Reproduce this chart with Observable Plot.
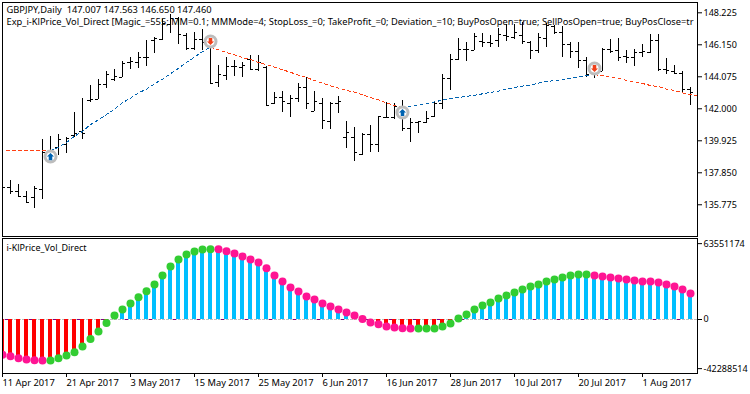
<!DOCTYPE html>
<html>
<head>
<meta charset="utf-8">
<script src="https://cdn.jsdelivr.net/npm/d3@7"></script>
<script src="https://cdn.jsdelivr.net/npm/@observablehq/plot@0.6"></script>
<style>
html,body{margin:0;padding:0;background:#fff;}
svg{display:block;background:#fff;}
</style>
</head>
<body>
<div id="chart"></div>
<script>
const opens = [136.92,136.87,136.62,136.33,136.23,136.75,139.19,139.51,139.68,140.27,140.51,142.54,142.62,143.57,143.88,144.05,145.02,145.02,145.35,146.43,146.47,147.46,147.83,146.75,145.89,146.47,146.21,143.73,144.16,144.74,144.70,145.17,144.53,144.70,142.32,142.75,142.32,142.65,143.36,141.85,142.36,141.18,142.32,140.16,140.16,139.04,140.33,139.68,141.46,141.41,142.10,140.70,141.09,141.09,141.52,142.32,143.94,145.17,145.84,145.78,146.38,146.28,146.43,146.75,146.64,146.75,146.32,145.78,146.58,147.33,146.92,146.17,145.71,145.13,144.48,144.44,145.82,145.78,145.39,145.30,145.63,145.67,146.43,144.53,144.44,144.31,143.25];
const highs = [137.13,137.35,137.09,136.62,136.96,140.01,140.20,140.33,140.12,141.78,142.65,143.51,143.88,144.44,144.55,145.09,145.35,145.67,146.43,146.64,147.77,148.11,147.94,146.86,146.97,147.12,146.53,144.81,145.35,145.13,145.02,145.45,145.45,144.76,143.08,143.14,142.86,143.62,144.01,143.12,142.65,142.39,142.80,141.18,140.81,140.42,140.92,141.52,142.39,142.32,142.54,141.35,141.20,141.85,142.43,144.22,145.50,146.53,146.32,146.90,146.86,146.75,147.23,147.46,147.46,147.62,146.38,146.86,147.51,147.40,147.33,146.32,146.28,145.35,145.02,145.89,146.47,146.58,145.78,145.82,146.15,146.79,146.82,145.24,144.81,144.44,143.36];
const lows = [136.59,136.44,136.27,135.88,135.53,136.12,138.86,138.97,139.12,140.16,140.01,142.43,142.62,143.29,143.79,144.01,144.53,144.59,144.76,145.61,146.43,146.86,146.17,145.78,145.78,145.78,143.62,143.36,143.83,144.09,144.05,144.48,144.44,142.15,142.28,141.78,141.46,142.43,141.95,141.85,140.66,140.66,141.72,139.45,138.58,138.99,139.19,139.19,141.35,141.28,140.55,139.84,140.42,141.02,141.46,141.93,143.19,145.13,145.09,145.78,145.99,145.99,145.99,146.38,146.47,146.15,145.20,145.56,145.99,146.82,145.35,145.24,144.63,144.05,143.98,144.44,145.56,145.07,144.96,144.76,145.35,145.61,144.42,144.22,144.20,143.08,142.21];
const closes = [136.87,136.66,136.33,135.92,136.81,139.14,139.25,140.03,140.05,140.42,140.38,142.60,143.57,144.22,144.09,144.96,145.04,145.35,145.35,146.53,147.51,147.83,146.79,145.89,146.47,146.32,143.66,144.22,144.74,144.74,144.81,144.53,145.00,142.19,142.75,142.49,142.65,143.40,142.32,142.49,141.24,142.32,142.49,140.44,139.14,140.33,139.68,141.52,141.46,142.15,140.70,141.09,141.20,141.35,142.32,143.94,145.17,145.84,145.84,146.69,146.28,146.25,146.79,146.69,146.92,146.36,145.78,146.60,147.38,146.97,146.17,145.71,145.13,144.22,144.37,145.84,145.74,145.35,145.30,145.67,145.74,146.43,144.53,144.48,144.31,143.25,143.08];

const trendValues = [139.27,139.27,139.27,139.27,139.27,139.27,139.27,139.51,139.81,140.22,140.53,140.98,141.28,141.63,141.98,142.39,142.69,143.03,143.27,143.62,143.92,144.27,144.63,145.00,145.35,145.71,145.99,145.82,145.65,145.50,145.32,145.19,145.00,144.87,144.70,144.53,144.37,144.18,144.03,143.83,143.66,143.49,143.34,143.19,143.08,142.90,142.73,142.58,142.39,142.21,142.08,142.17,142.26,142.34,142.45,142.56,142.67,142.73,142.80,142.88,142.97,143.06,143.14,143.27,143.38,143.47,143.55,143.66,143.77,143.83,143.88,143.98,144.07,144.14,144.22,144.14,144.05,143.96,143.85,143.75,143.64,143.51,143.44,143.27,143.19,143.03,142.93,142.82];
const trendRuns = [[0,6,"#ff4013"],[6,26,"#0063b1"],[26,50,"#ff4013"],[50,74,"#0063b1"],[74,87,"#ff4013"]];
const trendStart = 0.5;

const signalBars = [6,26,50,74];
const signalPrices = [138.90,146.36,141.76,144.61];
const signalUp = [true,false,true,false];

const indicatorMillions = [-28.1,-29.2,-30.8,-31.8,-32.4,-32.6,-32.6,-30.8,-28.6,-26.0,-21.5,-15.6,-9.5,-2.7,3.2,8.0,12.7,17.8,22.5,27.8,35.0,42.2,47.7,51.7,54.1,55.7,56.0,56.0,54.4,52.5,50.1,47.7,45.3,40.8,35.0,30.2,25.5,22.3,18.3,15.9,12.7,10.3,8.0,5.6,3.2,0.3,-2.4,-3.7,-5.6,-6.4,-6.9,-7.2,-7.2,-7.2,-7.2,-5.6,-3.2,0.8,4.0,8.0,11.1,13.5,16.7,19.1,21.5,23.9,26.3,27.8,30.2,31.8,33.4,35.0,35.8,35.8,35.0,34.2,33.4,32.6,31.8,31.0,30.2,30.2,29.4,27.8,26.3,23.9,20.7];
const greenRuns = [[6,26],[52,73]];

const priceTicks = [148.225,146.150,144.075,142.000,139.925,137.850,135.775];
const indicatorMax = 63551174, indicatorMin = -42288514;
const dateLabels = ["11 Apr 2017","21 Apr 2017","3 May 2017","15 May 2017","25 May 2017","6 Jun 2017","16 Jun 2017","28 Jun 2017","10 Jul 2017","20 Jul 2017","1 Aug 2017"];
const dateStep = 8;

const headerLine1 = "GBPJPY,Daily\u00a0\u00a0147.007 147.563 146.650 147.460";
const headerLine2 = "Exp_i-KlPrice_Vol_Direct [Magic_=555; MM=0.1; MMMode=4; StopLoss_=0; TakeProfit_=0; Deviation_=10; BuyPosOpen=true; SellPosOpen=true; BuyPosClose=tr";
const paneLabel = "i-KlPrice_Vol_Direct";

const FONT = "'Noto Sans', sans-serif";
const FS = 9.3;
const AXIS_FS = 9;

const ohlc = opens.map((o,i)=>({i,o,h:highs[i],l:lows[i],c:closes[i]}));
const trend = trendValues.map((v,i)=>({i: i===0?trendStart:i, v}));
const trendSegments = trendRuns.map(([a,b,color])=>({color, pts: trend.slice(a,b+1)}));
const signals = signalBars.map((i,k)=>({i,p:signalPrices[k],up:signalUp[k]}));

const arrowUp = {draw(ctx,size){
  const s = Math.sqrt(size)/2;
  ctx.moveTo(0,-s); ctx.lineTo(s,0); ctx.lineTo(s*0.5,0); ctx.lineTo(s*0.5,s);
  ctx.lineTo(-s*0.5,s); ctx.lineTo(-s*0.5,0); ctx.lineTo(-s,0); ctx.closePath();
}};
const arrowDown = {draw(ctx,size){
  const s = Math.sqrt(size)/2;
  ctx.moveTo(0,s); ctx.lineTo(s,0); ctx.lineTo(s*0.5,0); ctx.lineTo(s*0.5,-s);
  ctx.lineTo(-s*0.5,-s); ctx.lineTo(-s*0.5,0); ctx.lineTo(-s,0); ctx.closePath();
}};

const xDomain = [0, 695/8];

const upperPane = Plot.plot({
  width:750, height:238,
  marginLeft:2, marginRight:53, marginTop:2, marginBottom:2,
  style:{fontFamily:FONT,fontSize:FS+"px",color:"#000",background:"#fff"},
  x:{domain:xDomain, axis:null},
  y:{domain:[148.225-(236-12.3)/15.42, 148.225+(12.3-2)/15.42], axis:null},
  marks:[
    Plot.ruleX(ohlc,{x:"i",y1:"l",y2:"h",stroke:"#000",strokeWidth:1,shapeRendering:"crispEdges",clip:true}),
    Plot.ruleY(ohlc,{y:"o",x1:d=>d.i-0.375,x2:"i",stroke:"#000",shapeRendering:"crispEdges",clip:true}),
    Plot.ruleY(ohlc,{y:"c",x1:"i",x2:d=>d.i+0.375,stroke:"#000",shapeRendering:"crispEdges",clip:true}),
    ...trendSegments.map(s=>Plot.line(s.pts,{x:"i",y:"v",stroke:s.color,strokeWidth:1,strokeDasharray:"3,3",curve:"linear",clip:true,shapeRendering:"crispEdges"})),
    Plot.dot(signals,{x:"i",y:"p",r:5.5,fill:"#fff",stroke:"#bdbdbd",strokeWidth:3}),
    Plot.dot(signals.filter(d=>d.up),{x:"i",y:"p",symbol:arrowUp,r:4,fill:"#0063b1",stroke:"none"}),
    Plot.dot(signals.filter(d=>!d.up),{x:"i",y:"p",symbol:arrowDown,r:4,fill:"#f0401a",stroke:"none"}),
    Plot.text([headerLine1],{frameAnchor:"top-left",dx:4,dy:3.5,text:d=>d,textAnchor:"start",lineAnchor:"top",fill:"#000"}),
    Plot.text([headerLine2],{frameAnchor:"top-left",dx:4,dy:15.5,text:d=>d,textAnchor:"start",lineAnchor:"top",fill:"#000",lineWidth:Infinity}),
    Plot.frame({stroke:"#000",strokeWidth:1}),
    Plot.axisY({anchor:"right",ticks:priceTicks,tickFormat:d3.format(".3f"),tickSize:4,tickPadding:2,textAnchor:"start",label:null,fontSize:AXIS_FS})
  ]
});

const indicator = indicatorMillions.map((m,i)=>({
  i, v:m*1e6,
  green: greenRuns.some(r=>i>=r[0]&&i<=r[1])
}));

const yI = 133/(indicatorMax-indicatorMin);
const lowerPane = Plot.plot({
  width:750, height:156,
  marginLeft:2, marginRight:53, marginTop:0, marginBottom:21,
  style:{fontFamily:FONT,fontSize:FS+"px",color:"#000",background:"#fff"},
  x:{domain:xDomain, axis:null},
  y:{domain:[-(135-81)/yI, 81/yI], axis:null},
  marks:[
    Plot.ruleY([0],{stroke:"#c0c0c0",strokeWidth:1,strokeDasharray:"3,1",shapeRendering:"crispEdges"}),
    Plot.ruleY([0],{stroke:"#800080",strokeWidth:1,strokeDasharray:"3,21",strokeDashoffset:-3,shapeRendering:"crispEdges"}),
    Plot.rect(indicator,{x1:d=>d.i-0.25,x2:d=>d.i+0.25,y1:0,y2:"v",fill:d=>d.v>0?"#00bfff":"#ff0000",clip:true,shapeRendering:"crispEdges"}),
    Plot.dot(indicator,{x:"i",y:"v",r:4,fill:d=>d.green?"#32cd32":"#ff1493",stroke:"none",clip:true}),
    Plot.text([paneLabel],{frameAnchor:"top-left",dx:4,dy:6.5,text:d=>d,textAnchor:"start",lineAnchor:"top",fill:"#000",fontSize:9}),
    Plot.frame({stroke:"#000",strokeWidth:1}),
    Plot.axisY({anchor:"right",ticks:[0],tickFormat:d3.format("d"),tickSize:4,tickPadding:2,textAnchor:"start",label:null,fontSize:AXIS_FS}),
    Plot.axisY({anchor:"right",ticks:[indicatorMax],tickFormat:d3.format("d"),tickSize:4,tickPadding:2,textAnchor:"start",label:null,dy:4,fontSize:AXIS_FS}),
    Plot.axisY({anchor:"right",ticks:[indicatorMin],tickFormat:d=>d3.format("d")(d).replace("\u2212","-"),tickSize:4,tickPadding:2,textAnchor:"start",label:null,dy:-4,fontSize:AXIS_FS}),
    Plot.axisX({anchor:"bottom",ticks:dateLabels.map((_,k)=>k*dateStep),tickFormat:d=>dateLabels[d/dateStep],tickSize:4,tickPadding:2,textAnchor:"start",label:null})
  ]
});

const host = document.getElementById("chart");
host.append(upperPane, lowerPane);
</script>
</body>
</html>
